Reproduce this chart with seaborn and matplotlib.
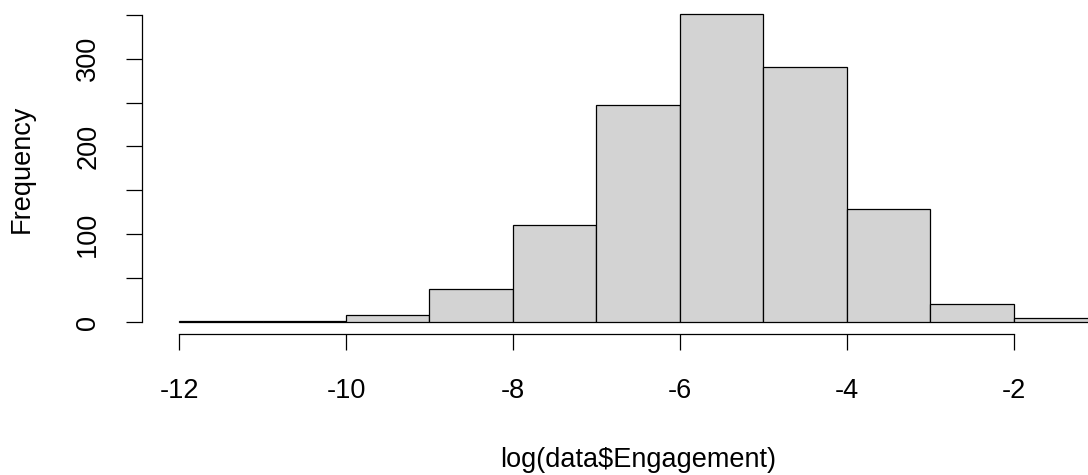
import numpy as np
import pandas as pd
import matplotlib
matplotlib.use("Agg")
import matplotlib.pyplot as plt
import seaborn as sns

# histogram of log(data$Engagement)
bin_edges = [-12, -11, -10, -9, -8, -7, -6, -5, -4, -3, -2, -1]
counts = [1, 1, 8, 38, 111, 247, 351, 291, 129, 21, 5]
x_ticks = [-12, -10, -8, -6, -4, -2]
y_ticks = [0, 50, 100, 150, 200, 250, 300, 350]
y_labels = ["0", "", "100", "", "200", "", "300", ""]

mids = [(a + b) / 2 for a, b in zip(bin_edges[:-1], bin_edges[1:])]
df = pd.DataFrame({"x": mids, "n": counts})

sns.set_style("ticks")
plt.rcParams["font.family"] = ["Liberation Sans", "DejaVu Sans"]

fig = plt.figure(figsize=(10.88, 4.75), dpi=100)
ax = fig.add_axes([0.1308, 0.2962, 0.9115, 0.6987])

sns.histplot(data=df, x="x", weights="n", bins=bin_edges, ax=ax,
             color="#D3D3D3", edgecolor="black", linewidth=0.9, alpha=1)

ax.set_xlim(-12.44, -0.56)
ax.set_ylim(-14, 364)

for s in ["top", "right"]:
    ax.spines[s].set_visible(False)
for s in ["left", "bottom"]:
    ax.spines[s].set_linewidth(0.9)
    ax.spines[s].set_color("black")
ax.spines["bottom"].set_bounds(-12, -2)
ax.spines["left"].set_bounds(0, 350)

ax.set_xticks(x_ticks)
ax.set_xticklabels([str(v) for v in x_ticks])
ax.set_yticks(y_ticks)
ax.set_yticklabels(y_labels, rotation=90, va="center")
ax.tick_params(axis="both", length=11.5, width=0.9, color="black",
               labelsize=19.5, labelcolor="black")
ax.tick_params(axis="x", pad=20)
ax.tick_params(axis="y", pad=18)

ax.set_xlabel("log(data$Engagement)", fontsize=19.5, color="black")
ax.set_ylabel("Frequency", fontsize=19.5, color="black")
ax.xaxis.set_label_coords(0.5, -0.34)
ax.yaxis.set_label_coords(-0.108, 0.5)

fig.savefig("out.png", dpi=100)
